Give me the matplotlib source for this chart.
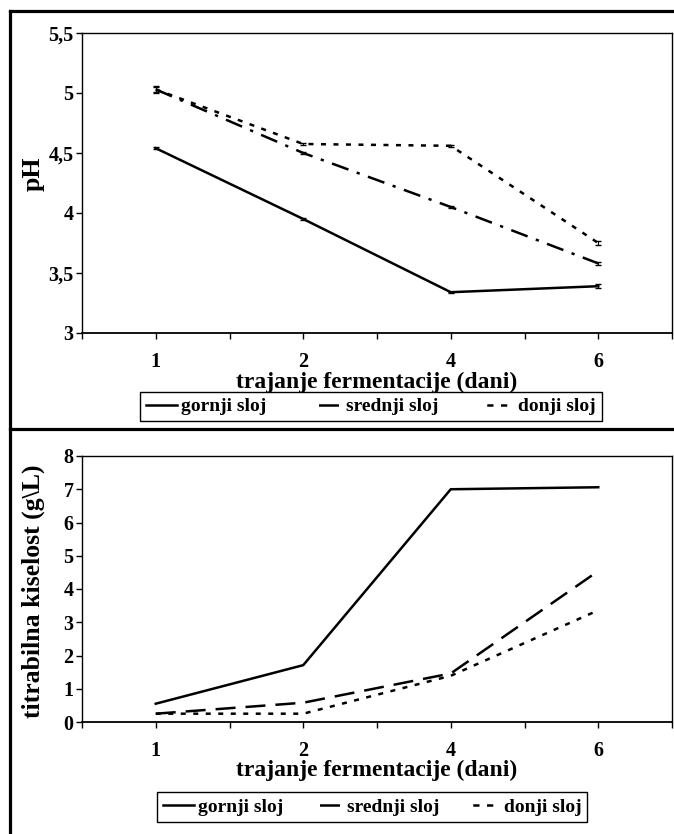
from matplotlib import pyplot as plt
from matplotlib.lines import Line2D
import numpy as np

plt.rcParams['font.family'] = ['Liberation Serif', 'DejaVu Serif']
plt.rcParams['font.weight'] = 'bold'

dani = ['1', '2', '4', '6']
serije = ['gornji sloj', 'srednji sloj', 'donji sloj']

ph_gornji = [4.54, 3.95, 3.34, 3.39]
ph_srednji = [5.03, 4.50, 4.05, 3.58]
ph_donji = [5.03, 4.575, 4.56, 3.75]
ph_err_gornji = [0.01, 0.005, 0.005, 0.015]
ph_err_srednji = [0.03, 0.01, 0.01, 0.015]
ph_err_donji = [0.02, 0.005, 0.01, 0.015]

tk_gornji = [0.55, 1.71, 7.0, 7.06]
tk_srednji = [0.25, 0.58, 1.46, 4.54]
tk_donji = [0.25, 0.25, 1.39, 3.36]

W, H = 674, 834
fig = plt.figure(figsize=(W/100, H/100), dpi=100)

def px(l, t, r, b):
    return [l/W, 1-b/H, (r-l)/W, (b-t)/H]

x = np.arange(1, len(dani)+1)
LW = 1.8
crtice_sr1 = (7, 3.5, 1.3, 3.5)
crtice_sr2 = (8, 4)
crtice_do = (2, 3)

def stil(ax, ylim, yticks, ylabels):
    ax.set_xlim(0.5, 4.5)
    ax.set_ylim(*ylim)
    ax.set_yticks(yticks)
    ax.set_yticklabels(ylabels)
    ax.set_xticks(np.arange(0.5, 4.6, 0.5))
    ax.set_xticklabels([''] + [d if i == 0 else '' for d in dani for i in (0, 1)][:-1] + [''])
    ax.tick_params(axis='x', direction='out', length=4, width=1, pad=10, labelsize=14.5)
    ax.tick_params(axis='y', direction='out', length=4, width=1, pad=2, labelsize=14.5)
    for s in ax.spines.values():
        s.set_linewidth(1)
    ax.spines['bottom'].set_linewidth(1.3)

def legenda(cx, cy, razmak):
    handles = [Line2D([], [], color='black', lw=LW),
               Line2D([], [], color='black', lw=LW, linestyle=(9, (8, 4))),
               Line2D([], [], color='black', lw=LW, linestyle=(4, (2.5, 3)))]
    lg = fig.legend(handles, serije, loc='center', bbox_to_anchor=(cx/W, 1-cy/H), ncol=3,
                    fontsize=14, frameon=True, fancybox=False, edgecolor='black',
                    framealpha=1, handlelength=1.6, handletextpad=0.2, columnspacing=razmak,
                    borderpad=0.3, borderaxespad=0)
    lg.get_frame().set_linewidth(1)
    return lg

# gornji graf - pH
ax1 = fig.add_axes(px(82, 33, 672, 333))
ax1.errorbar(x, ph_gornji, yerr=ph_err_gornji, color='black', lw=LW,
             capsize=2, elinewidth=0.8, label=serije[0])
ax1.errorbar(x, ph_srednji, yerr=ph_err_srednji, color='black', lw=LW,
             capsize=2, elinewidth=0.8, dashes=crtice_sr1, label=serije[1])
ax1.errorbar(x, ph_donji, yerr=ph_err_donji, color='black', lw=LW,
             capsize=2, elinewidth=0.8, dashes=crtice_do, label=serije[2])
stil(ax1, (3, 5.5), [3, 3.5, 4, 4.5, 5, 5.5], ['3', '3,5', '4', '4,5', '5', '5,5'])
ax1.set_xlabel('trajanje fermentacije (dani)', fontsize=17, fontweight='bold', va='top')
ax1.xaxis.set_label_coords(0.5, -0.128)
ax1.set_ylabel('pH', fontsize=18.5, fontweight='bold')
ax1.yaxis.set_label_coords(-0.064, 0.53)
legenda(371, 406.5, 2.3)

# donji graf - titrabilna kiselost
ax2 = fig.add_axes(px(82, 456, 672, 722))
ax2.plot(x, tk_gornji, color='black', lw=LW, label=serije[0])
ax2.plot(x, tk_srednji, color='black', lw=LW, dashes=crtice_sr2, label=serije[1])
ax2.plot(x, tk_donji, color='black', lw=LW, dashes=crtice_do, label=serije[2])
stil(ax2, (0, 8), range(0, 9), [str(i) for i in range(0, 9)])
ax2.set_xlabel('trajanje fermentacije (dani)', fontsize=17, fontweight='bold', va='top')
ax2.xaxis.set_label_coords(0.5, -0.142)
ax2.set_ylabel('titrabilna kiselost (g\\L)', fontsize=18.5, fontweight='bold')
ax2.yaxis.set_label_coords(-0.062, 0.49)
legenda(372, 807, 1.5)

# okvir
for xs, ys in [([10, 10], [11, 840]), ([10, 680], [11, 11]), ([10, 680], [429, 429])]:
    fig.add_artist(Line2D([v/W for v in xs], [1-v/H for v in ys], color='black', lw=2.3,
                          transform=fig.transFigure))

fig.savefig('out.png', dpi=100)
